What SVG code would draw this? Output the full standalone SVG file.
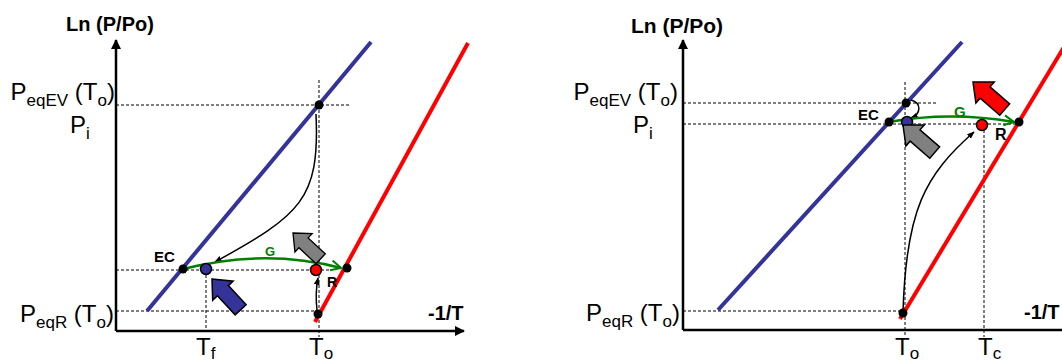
<svg xmlns="http://www.w3.org/2000/svg" width="1062" height="362" viewBox="0 0 1062 362">
<style>
text{font-family:"Liberation Sans",Arial,sans-serif;fill:#000}
.big{font-size:24px}
.sub{font-size:17px}
.bold{font-weight:bold}
.axis{stroke:#000;stroke-width:2.5;fill:none}
.dash{stroke:#000;stroke-width:1;stroke-dasharray:3,2;fill:none}
.blue{stroke:#333399;stroke-width:4;fill:none}
.red{stroke:#FF0000;stroke-width:4;fill:none}
.green{stroke:#008000;stroke-width:2.5;fill:none}
.blk{stroke:#000;stroke-width:1.5;fill:none}
.dot{fill:#000}
</style>
<defs>
<marker id="axarr" viewBox="0 0 10 10" refX="9" refY="5" markerWidth="4" markerHeight="4" orient="auto" markerUnits="strokeWidth">
<path d="M0,0 L10,5 L0,10 Z" fill="#000"/>
</marker>
<marker id="barr" viewBox="0 0 10 10" refX="9" refY="5" markerWidth="5" markerHeight="5" orient="auto" markerUnits="strokeWidth">
<path d="M0,1 L10,5 L0,9 Z" fill="#000"/>
</marker>
<marker id="garr" viewBox="0 0 10 10" refX="9" refY="5" markerWidth="5" markerHeight="5" orient="auto" markerUnits="strokeWidth">
<path d="M1,1 L9,5 L1,9" fill="none" stroke="#008000" stroke-width="1.6"/>
</marker>
<path id="blockarrow" d="M0,0 L16,-14 L16,-7.5 L42,-7.5 L42,7.5 L16,7.5 L16,14 Z" stroke="#000" stroke-width="1.5"/>
</defs>

<!-- LEFT PANEL -->
<g id="left-axes">
<path class="axis" d="M116,331 V40" marker-end="url(#axarr)"/>
<path class="axis" d="M116,331 H464" marker-end="url(#axarr)"/>
<text class="bold" x="110" y="31" font-size="20" text-anchor="middle">Ln (P/Po)</text>
<text class="bold" x="428" y="320" font-size="20">-1/T</text>
</g>
<g id="left-guides">
<path class="dash" d="M116,105 H349"/>
<path class="dash" d="M116,270 H330"/>
<path class="dash" d="M116,311 H318"/>
<path class="dash" d="M319,80 V337"/>
<path class="dash" d="M206,270 V331"/>
</g>
<g id="left-blue-line"><path class="blue" d="M147,311 L371,42"/></g>
<g id="left-red-line"><path class="red" d="M315,322 L468,43"/></g>
<g id="left-connectors">
<path class="blk" d="M316,114 C320,200 300,215 215,262" marker-end="url(#barr)"/>
<path class="blk" d="M317,310 Q315,293 318,278" marker-end="url(#barr)"/>
<path class="green" d="M183,269 Q265,248 341,268" marker-end="url(#garr)"/>
</g>
<g id="left-points">
<circle class="dot" cx="319" cy="105" r="4.5"/>
<circle class="dot" cx="183" cy="269" r="4.5"/>
<circle class="dot" cx="347" cy="268" r="4.5"/>
<circle class="dot" cx="318" cy="314" r="4.5"/>
<circle cx="206" cy="269" r="5.5" fill="#333399" stroke="#000" stroke-width="1.5"/>
<circle cx="316" cy="270" r="5.5" fill="#FF0000" stroke="#000" stroke-width="1.5"/>
</g>
<g id="left-block-arrows">
<use href="#blockarrow" fill="#333399" transform="translate(212,279) rotate(47)"/>
<use href="#blockarrow" fill="#808080" transform="translate(293,233) rotate(43) scale(0.9)"/>
</g>
<g id="left-labels">
<text class="big" x="115" y="100" text-anchor="end">P<tspan class="sub" dy="6">eqEV</tspan><tspan dy="-6"> (T</tspan><tspan class="sub" dy="6">o</tspan><tspan dy="-6">)</tspan></text>
<text class="big" x="70" y="133">P<tspan class="sub" dy="6">i</tspan></text>
<text class="big" x="114" y="322" text-anchor="end">P<tspan class="sub" dy="6">eqR</tspan><tspan dy="-6"> (T</tspan><tspan class="sub" dy="6">o</tspan><tspan dy="-6">)</tspan></text>
<text class="big" x="196" y="355">T<tspan class="sub" dy="4">f</tspan></text>
<text class="big" x="309" y="355">T<tspan class="sub" dy="4">o</tspan></text>
<text class="bold" x="154" y="262" font-size="15">EC</text>
<text class="bold" x="265" y="256" font-size="13" style="fill:#008000">G</text>
<text class="bold" x="327" y="287" font-size="14">R</text>
</g>

<!-- RIGHT PANEL -->
<g id="right-axes">
<path class="axis" d="M683,330 V40" marker-end="url(#axarr)"/>
<path class="axis" d="M683,330 H1062"/>
<text class="bold" x="677" y="33" font-size="21" text-anchor="middle">Ln (P/Po)</text>
<text class="bold" x="1024" y="319" font-size="20">-1/T</text>
</g>
<g id="right-guides">
<path class="dash" d="M683,103 H937"/>
<path class="dash" d="M683,124 H1018"/>
<path class="dash" d="M683,311 H903"/>
<path class="dash" d="M905,82 V337"/>
<path class="dash" d="M984,125 V337"/>
</g>
<g id="right-blue-line"><path class="blue" d="M718,310 L962,42"/></g>
<g id="right-red-line"><path class="red" d="M900,319 L1067,42"/></g>
<g id="right-connectors">
<path class="blk" d="M903,312 C906,210 925,175 974,132" marker-end="url(#barr)"/>
<path class="blk" d="M911,100 C922,103 921,114 911,118" marker-end="url(#barr)"/>
<path class="green" d="M889,122 Q950,111 1014,122" marker-end="url(#garr)"/>
</g>
<g id="right-points">
<circle class="dot" cx="906" cy="103" r="4.5"/>
<circle class="dot" cx="889" cy="122" r="4.5"/>
<circle class="dot" cx="1019" cy="122" r="4.5"/>
<circle class="dot" cx="903" cy="313" r="4.5"/>
<circle cx="907" cy="122" r="5.5" fill="#333399" stroke="#000" stroke-width="1.5"/>
<circle cx="982" cy="125" r="5.5" fill="#FF0000" stroke="#000" stroke-width="1.5"/>
</g>
<g id="right-block-arrows">
<use href="#blockarrow" fill="#808080" transform="translate(903,125) rotate(41)"/>
<use href="#blockarrow" fill="#FF0000" transform="translate(973,82) rotate(41)"/>
</g>
<g id="right-labels">
<text class="big" x="678" y="100" text-anchor="end">P<tspan class="sub" dy="6">eqEV</tspan><tspan dy="-6"> (T</tspan><tspan class="sub" dy="6">o</tspan><tspan dy="-6">)</tspan></text>
<text class="big" x="633" y="133">P<tspan class="sub" dy="6">i</tspan></text>
<text class="big" x="680" y="321" text-anchor="end">P<tspan class="sub" dy="6">eqR</tspan><tspan dy="-6"> (T</tspan><tspan class="sub" dy="6">o</tspan><tspan dy="-6">)</tspan></text>
<text class="big" x="895" y="355">T<tspan class="sub" dy="4">o</tspan></text>
<text class="big" x="978" y="355">T<tspan class="sub" dy="4">c</tspan></text>
<text class="bold" x="858" y="120" font-size="15">EC</text>
<text class="bold" x="954" y="117" font-size="15" style="fill:#008000">G</text>
<text class="bold" x="995" y="140" font-size="16">R</text>
</g>
</svg>
